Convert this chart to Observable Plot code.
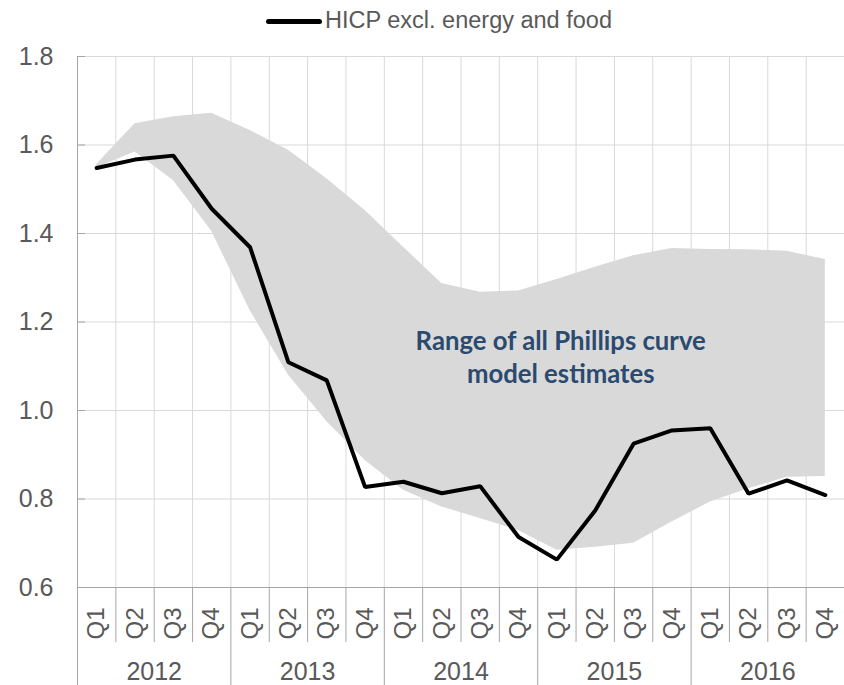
<!DOCTYPE html>
<html>
<head>
<meta charset="utf-8">
<script src="https://cdn.jsdelivr.net/npm/d3@7"></script>
<script src="https://cdn.jsdelivr.net/npm/@observablehq/plot@0.6"></script>
<style>
  html, body { margin: 0; padding: 0; background: #fff; }
  #wrap { width: 844px; height: 685px; position: relative; overflow: hidden; }
  #legend { height: 40px; position: relative; font-family: "Liberation Sans", Arial, sans-serif; font-size: 23.5px; color: #595959; }
  #legend .sw { position: absolute; left: 266px; top: 18.5px; width: 56px; height: 5px; background: #000; border-radius: 2.5px; }
  #legend .lb { position: absolute; left: 325px; top: 7px; line-height: 27px; white-space: nowrap; }
  svg { display: block; }
</style>
</head>
<body>
<div id="wrap">
  <div id="legend"><span class="sw"></span><span class="lb">HICP excl. energy and food</span></div>
  <div id="chart"></div>
</div>
<script>
// ---- data ----
const years = [2012, 2013, 2014, 2015, 2016];
const quarterNames = ["Q1", "Q2", "Q3", "Q4"];
const hicp = [1.548, 1.567, 1.576, 1.456, 1.369, 1.109, 1.068, 0.827, 0.839, 0.813,
              0.829, 0.714, 0.663, 0.774, 0.925, 0.955, 0.960, 0.812, 0.842, 0.809];
const bandUpper = [1.556, 1.648, 1.664, 1.672, 1.633, 1.588, 1.524, 1.452, 1.369, 1.287,
                   1.267, 1.270, 1.296, 1.324, 1.350, 1.366, 1.364, 1.363, 1.360, 1.341];
const bandLower = [1.548, 1.584, 1.520, 1.405, 1.226, 1.080, 0.975, 0.887, 0.820, 0.782,
                   0.756, 0.729, 0.684, 0.691, 0.700, 0.748, 0.793, 0.823, 0.849, 0.851];
const yTicks = [0.6, 0.8, 1.0, 1.2, 1.4, 1.6, 1.8];
const annotationText = "Range of all Phillips curve\nmodel estimates";

// ---- build table ----
const labels = years.flatMap(y => quarterNames.map(q => ({year: y, q})));
const rows = hicp.map((v, i) => ({x: i + 0.5, v, lo: bandLower[i], hi: bandUpper[i]}));
const centers = labels.map((d, i) => i + 0.5);
const quarterSeps = d3.range(1, labels.length).filter(i => i % 4 !== 0);
const yearSeps = d3.range(0, labels.length + 1, 4);
const yearCenters = years.map((y, i) => i * 4 + 2);

const chart = Plot.plot({
  width: 844,
  height: 645,
  marginTop: 16,
  marginBottom: 98,
  marginLeft: 77,
  marginRight: 0,
  style: {fontFamily: "'Liberation Sans', Arial, sans-serif", color: "#595959", background: "#fff", overflow: "visible"},
  x: {domain: [0, labels.length], axis: null, label: null},
  y: {domain: [0.6, 1.8], axis: null, label: null},
  marks: [
    Plot.ruleY(yTicks, {stroke: "#d9d9d9", strokeWidth: 1}),
    Plot.ruleX(d3.range(1, labels.length + 1), {stroke: "#d9d9d9", strokeWidth: 1}),
    Plot.areaY(rows, {x: "x", y1: "lo", y2: "hi", fill: "#d9d9d9"}),
    Plot.ruleX([0], {stroke: "#a6a6a6", strokeWidth: 1}),
    Plot.ruleY([0.6], {stroke: "#a6a6a6", strokeWidth: 1}),
    Plot.lineY(rows, {x: "x", y: "v", stroke: "#000", strokeWidth: 4, strokeLinejoin: "miter", curve: "linear"}),
    Plot.text([annotationText], {
      x: 12.6, y: 1.124, text: d => d, fontSize: 25.7, fontWeight: "bold",
      fontFamily: "Lato, 'Open Sans', sans-serif", fill: "#2b4a6f", lineHeight: 1.3, textAnchor: "middle"
    }),
    Plot.axisY(yTicks, {label: null, tickSize: 0, tickPadding: 24, fontSize: 25, tickFormat: d => d.toFixed(1)}),
    Plot.axisY(yTicks, {label: null, tickSize: -8, tickFormat: () => "", stroke: "#a6a6a6"}),
    Plot.axisX(quarterSeps, {label: null, tickSize: 55, tickFormat: () => "", stroke: "#a6a6a6"}),
    Plot.axisX(yearSeps, {label: null, tickSize: 98, tickFormat: () => "", stroke: "#a6a6a6"}),
    Plot.axisX(centers, {label: null, tickSize: 0, tickPadding: 20, tickRotate: -90, fontSize: 24,
      tickFormat: d => labels[Math.floor(d)].q}),
    Plot.axisX(yearCenters, {label: null, tickSize: 0, tickPadding: 75, fontSize: 25,
      tickFormat: d => String(years[Math.floor(d / 4)])})
  ]
});
document.getElementById("chart").appendChild(chart);
</script>
</body>
</html>
